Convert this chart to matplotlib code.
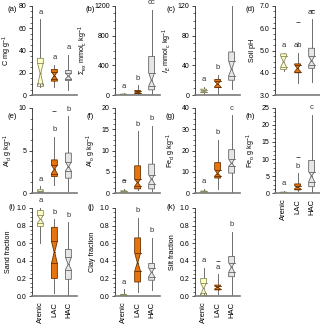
import matplotlib
matplotlib.use("Agg")
import matplotlib.pyplot as plt
from matplotlib.ticker import AutoMinorLocator, FormatStrFormatter

plt.rcParams['font.family'] = ['Liberation Sans', 'DejaVu Sans']
plt.rcParams['mathtext.default'] = 'regular'

groups = ["Arenic", "LAC", "HAC"]

# each row: [whislo, q1, cilo, med, cihi, q3, whishi] for Arenic, LAC, HAC
carbon = [[7, 10, 8, 19.5, 29, 33, 68], [7.5, 12.5, 14, 17.5, 21, 23, 27], [5, 13, 14.5, 17, 20, 22, 36]]
sum_ex = [[0, 3, 2, 6, 10, 14, 25], [0, 20, 28, 42, 52, 62, 130], [0, 70, 120, 200, 300, 520, 1150]]
i_e = [[2, 3.5, 4, 5.5, 7, 8, 11], [1, 10, 11.5, 15, 18.5, 21, 27], [8, 20, 26, 35, 46, 58, 120]]
soil_ph = [[4.1, 4.15, 4.25, 4.5, 4.75, 4.85, 4.9], [3.55, 4.0, 4.05, 4.2, 4.35, 4.4, 4.9], [3.6, 4.2, 4.35, 4.55, 4.75, 5.1, 6.4]]
al_d = [[0, 0.05, 0.05, 0.15, 0.3, 0.4, 0.8], [0.9, 1.95, 2.3, 2.8, 3.3, 3.9, 6.6], [0.3, 1.75, 2.6, 3.1, 3.7, 4.7, 9.0]]
al_o = [[0, 0.1, 0.15, 0.3, 0.45, 0.55, 1.0], [0.7, 1.0, 1.6, 2.5, 3.2, 6.4, 14.5], [0.5, 1.0, 2.2, 3.3, 4.3, 6.8, 15.8]]
fe_d = [[0, 0.2, 0.3, 0.5, 0.8, 1.0, 2.0], [2, 7.1, 8, 9.2, 11, 14.3, 25], [0, 9.4, 12.5, 14, 16, 20.4, 36.6]]
fe_o = [[0, 0.05, 0.1, 0.15, 0.25, 0.3, 0.7], [0.5, 0.95, 1.3, 1.8, 2.2, 2.7, 5.8], [0.3, 1.9, 3.3, 5.1, 6.3, 9.6, 23]]
sand = [[0.6, 0.79, 0.83, 0.87, 0.92, 0.97, 1.0], [0.03, 0.2, 0.37, 0.5, 0.62, 0.78, 0.87], [0.0, 0.19, 0.3, 0.36, 0.44, 0.53, 0.84]]
clay = [[0, 0.005, 0.008, 0.012, 0.016, 0.02, 0.08], [0.05, 0.16, 0.28, 0.38, 0.49, 0.66, 0.89], [0.07, 0.18, 0.22, 0.27, 0.32, 0.37, 0.66]]
silt = [[0.0, 0.03, 0.01, 0.09, 0.15, 0.2, 0.32], [0.02, 0.07, 0.08, 0.1, 0.115, 0.125, 0.25], [0.0, 0.22, 0.27, 0.33, 0.38, 0.45, 0.73]]

letters_a = ["a", "a", "a"]
letters_b = ["a", "b", "cc"]
letters_c = ["a", "b", ""]
letters_d = ["a", "ab", "ac"]
letters_e = ["a", "b", "b"]
letters_f = ["a", "b", "b"]
letters_g = ["a", "b", "c"]
letters_h = ["a", "b", "c"]
letters_i = ["a", "b", "b"]
letters_j = ["a", "b", "b"]
letters_k = ["a", "a", "b"]

# outliers: (group index, value)
outliers_d = [(1, 6.3), (2, 6.8)]
outliers_e = [(1, 9.6)]
outliers_f = [(0, 3.1)]
outliers_h = [(1, 10.6)]
outliers_k = [(1, 0.4)]

panels = [
    ("(a)", "C mg g$^{-1}$", carbon, letters_a, [], (0, 80), [0, 20, 40, 60, 80], "%d"),
    ("(b)", r"$\Sigma_{ex}$ mmol$_c$ kg$^{-1}$", sum_ex, letters_b, [], (0, 1200), [0, 400, 800, 1200], "%d"),
    ("(c)", "$\it{I}_E$ mmol$_c$ kg$^{-1}$", i_e, letters_c, [], (0, 120), [0, 40, 80, 120], "%d"),
    ("(d)", "Soil pH", soil_ph, letters_d, outliers_d, (3, 7), [3, 4, 5, 6, 7], "%.1f"),
    ("(e)", "Al$_d$ g kg$^{-1}$", al_d, letters_e, outliers_e, (0, 10), [0, 5, 10], "%d"),
    ("(f)", "Al$_o$ g kg$^{-1}$", al_o, letters_f, outliers_f, (0, 20), [0, 5, 10, 15, 20], "%d"),
    ("(g)", "Fe$_d$ g kg$^{-1}$", fe_d, letters_g, [], (0, 40), [0, 10, 20, 30, 40], "%d"),
    ("(h)", "Fe$_o$ g kg$^{-1}$", fe_o, letters_h, outliers_h, (0, 25), [0, 5, 10, 15, 20, 25], "%d"),
    ("(i)", "Sand fraction", sand, letters_i, [], (0, 1), [0, 0.2, 0.4, 0.6, 0.8, 1.0], "%.1f"),
    ("(j)", "Clay fraction", clay, letters_j, [], (0, 1), [0, 0.2, 0.4, 0.6, 0.8, 1.0], "%.1f"),
    ("(k)", "Silt fraction", silt, letters_k, outliers_k, (0, 1), [0, 0.2, 0.4, 0.6, 0.8, 1.0], "%.1f"),
]

fills = ["#FFFFC4", "#E8740E", "#E6E6E6"]
edges = ["#8A8A60", "#6A3200", "#666666"]

fig = plt.figure(figsize=(3.2, 3.29), dpi=100)
lefts = [0.10, 0.36, 0.61, 0.86]
bottoms = [0.711, 0.413, 0.10]
heights = [0.271, 0.259, 0.268]
w = 0.14
bw = 0.42

for k, (tag, ylabel, stats, letters, outs, ylim, ticks, fmt) in enumerate(panels):
    row, col = k // 4, k % 4
    ax = fig.add_axes([lefts[col], bottoms[row], w, heights[row]])
    rng = ylim[1] - ylim[0]
    for i, s in enumerate(stats):
        lo, q1, cl, med, ch, q3, hi = s
        x = i + 1
        h = bw / 2
        n = h * 0.1
        ax.plot([x, x], [lo, q1], color="#6E6E6E", lw=0.7, zorder=1)
        ax.plot([x, x], [q3, hi], color="#6E6E6E", lw=0.7, zorder=1)
        xs = [x - h, x + h, x + h, x + n, x + h, x + h, x - h, x - h, x - n, x - h]
        ys = [q1, q1, cl, med, ch, q3, q3, ch, med, cl]
        ax.fill(xs, ys, facecolor=fills[i], edgecolor=edges[i], lw=0.6, zorder=2)
        ax.plot([x - h, x + h], [cl, cl], color=edges[i], lw=0.6, zorder=3)
        ax.plot([x - h, x + h], [ch, ch], color=edges[i], lw=0.6, zorder=3)
        ax.plot([x - n, x + n], [med, med], color=edges[i], lw=0.6, zorder=3)
        ax.text(x, hi + 0.04 * rng, letters[i], ha="center", va="bottom",
                fontsize=5.5, color="#333333", clip_on=False)
    for g, v in outs:
        ax.plot(g + 1, v, marker="_", color="#555555", ms=2.5, mew=0.7)
    ax.set_xlim(0.4, 3.6)
    ax.set_ylim(*ylim)
    ax.set_yticks(ticks)
    ax.yaxis.set_major_formatter(FormatStrFormatter(fmt))
    ax.yaxis.set_minor_locator(AutoMinorLocator(4))
    ax.tick_params(axis="y", labelsize=5, length=2.5, width=0.5, pad=1.5)
    ax.tick_params(axis="y", which="minor", length=1.3, width=0.4)
    ax.set_ylabel(ylabel, fontsize=5.2, labelpad=3)
    for sp in ["top", "right"]:
        ax.spines[sp].set_visible(False)
    ax.spines["left"].set_linewidth(0.5)
    ax.spines["bottom"].set_color("#7A7A7A")
    ax.spines["bottom"].set_linewidth(1.2)
    ax.set_xticks([1, 2, 3])
    if k >= 7:
        ax.set_xticklabels(groups, rotation=90, fontsize=5.5)
        ax.tick_params(axis="x", length=0, pad=4)
    else:
        ax.set_xticklabels([])
        ax.tick_params(axis="x", length=0)
    ty = 0.96 if row == 0 else (0.9 if row == 1 else 1.0)
    tx = -0.55 if col > 0 else -0.45
    ax.text(tx, ty, tag, transform=ax.transAxes, fontsize=5.5, ha="center", va="center")

fig.savefig("out.png", dpi=100)
